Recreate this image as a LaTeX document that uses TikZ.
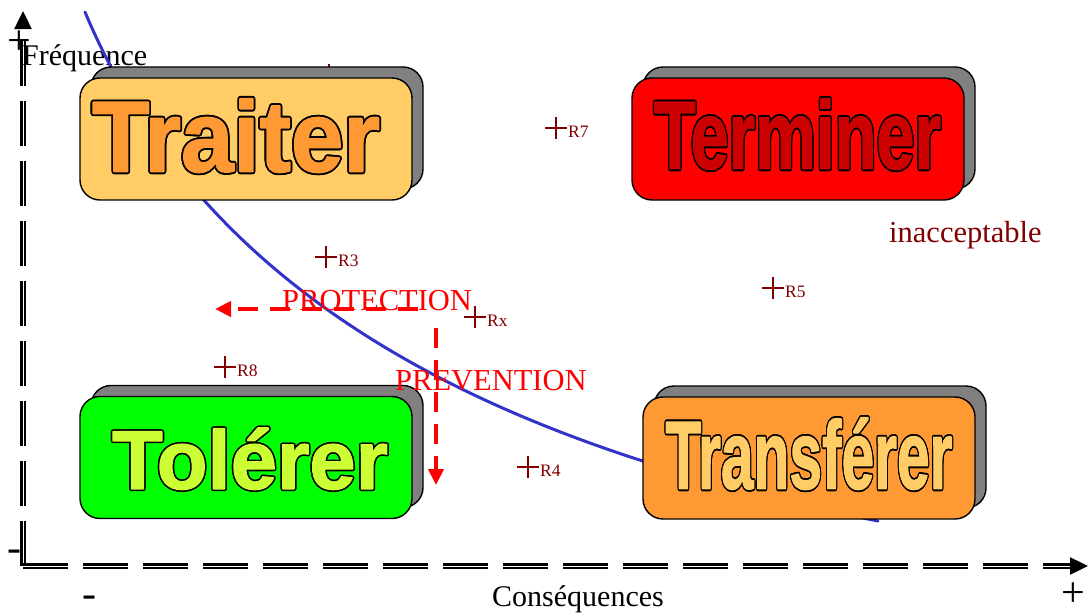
\documentclass[tikz,border=0pt]{standalone}
\usepackage{fontspec}
\setmainfont{Liberation Serif}
\newfontfamily\wordfont{Liberation Sans}[FakeBold=1.6]
\usepackage{graphicx}
\usepackage{contour}
\contourlength{1.8pt}
\usetikzlibrary{arrows.meta,shadows}

\definecolor{riskred}{HTML}{800000}
\definecolor{curveblue}{HTML}{3333CC}
\definecolor{shadowgray}{HTML}{808080}
\definecolor{lightorange}{HTML}{FFCC66}
\definecolor{darkorange}{HTML}{FF9933}
\definecolor{termred}{HTML}{FF0000}
\definecolor{termdark}{HTML}{CC0000}
\definecolor{tolgreen}{HTML}{00FF00}
\definecolor{tollime}{HTML}{CCFF33}

\newcommand\bigword[4]{\resizebox{#2pt}{#3pt}{\textcolor{#1}{\contour{black}{\wordfont\bfseries\fontsize{100}{100}\selectfont #4}}}}

\tikzset{
  quadbox/.style={draw=black,line width=1.4pt,rounded corners=20pt,minimum width=332pt,minimum height=122pt,inner sep=0pt,fill=#1,
    general shadow={shadow xshift=11pt,shadow yshift=11pt,fill=shadowgray,draw=black,line width=1.4pt}},
  quadword/.style={inner sep=0pt,anchor=center},
  axisline/.style={line width=2.4pt,double=white,double distance=1pt,line cap=butt,dash pattern=on 45pt off 15pt,
    -{Triangle[length=18pt,width=17pt]}},
  riskcross/.style={riskred,line width=2.3pt,line cap=butt},
  risklabel/.style={riskred,anchor=base west,inner sep=0pt,font=\fontsize{17.5}{17}\selectfont},
  redarrow/.style={red,line width=4pt,line cap=butt,dash pattern=on 20pt off 12pt,->},
  redlabel/.style={red,anchor=base west,inner sep=0pt,font=\fontsize{30.5}{32}\selectfont},
  axislabel/.style={inner sep=0pt,font=\fontsize{30}{32}\selectfont},
  signlabel/.style={inner sep=0pt,anchor=center,font=\fontsize{42}{42}\selectfont}
}

\begin{document}
\begin{tikzpicture}[line cap=round,line join=round,>={Triangle[length=16pt,width=15pt]},x=1pt,y=-1pt]
  \useasboundingbox (0,0) rectangle (1088,613);

  \coordinate (origin) at (23,566);
  \coordinate (ytip) at (23,11);
  \coordinate (xtip) at (1088,566);
  \draw[axisline] (origin) -- (ytip);
  \draw[axisline] (origin) -- (xtip);

  \node[signlabel] (yplus) at (19,43) {+};
  \node[signlabel] (yminus) at (14,556) {-};
  \node[signlabel] (xminus) at (89,602) {-};
  \node[signlabel] (xplus) at (1073,595) {+};
  \node[axislabel,anchor=base west] (freq) at (22,65) {Fréquence};
  \node[axislabel,anchor=base] (cons) at (578,606) {Conséquences};

  \draw[curveblue,line width=3pt] (85,12) .. controls (215,322) and (534,452) .. (878,521);

  \draw[riskcross] (318,75) -- (340,75) (329,64) -- (329,86);
  \foreach \name/\px/\py in {R7/556/128,R3/326/257,Rx/475/317,R8/225/367,R4/528/467,R5/773/288}{
    \draw[riskcross] (\px-11,\py) -- (\px+11,\py) (\px,\py-11) -- (\px,\py+11);
    \node[risklabel] (\name) at (\px+12,\py+9) {\name};
  }

  \node[quadbox=lightorange] (traiterbox) at (246,139) {};
  \node[quadbox=termred] (terminerbox) at (798,139) {};
  \node[quadbox=tolgreen] (tolererbox) at (246,457.5) {};
  \node[quadbox=darkorange] (transfbox) at (809,458) {};

  \node[quadword] (traiter) at (236,136.5) {\bigword{darkorange}{288}{73}{Traiter}};
  \node[quadword] (terminer) at (797.5,135) {\bigword{termdark}{287}{70}{Terminer}};
  \node[quadword] (tolerer) at (250,459.5) {\bigword{tollime}{276}{61}{Tolérer}};
  \node[quadword] (transferer) at (809,454.5) {\bigword{lightorange}{287}{71}{Transférer}};

  \node[riskred,axislabel,anchor=base west,font=\fontsize{30.5}{32}\selectfont] (inacc) at (889,242) {inacceptable};

  \coordinate (protstart) at (418,309);
  \coordinate (protend) at (215,309);
  \coordinate (prevstart) at (436,328);
  \coordinate (prevend) at (436,485);
  \draw[redarrow] (protstart) -- (protend);
  \draw[redarrow] (prevstart) -- (prevend);
  \node[redlabel] (protection) at (282,310) {PROTECTION};
  \node[redlabel] (prevention) at (395,390) {PREVENTION};
\end{tikzpicture}
\end{document}
